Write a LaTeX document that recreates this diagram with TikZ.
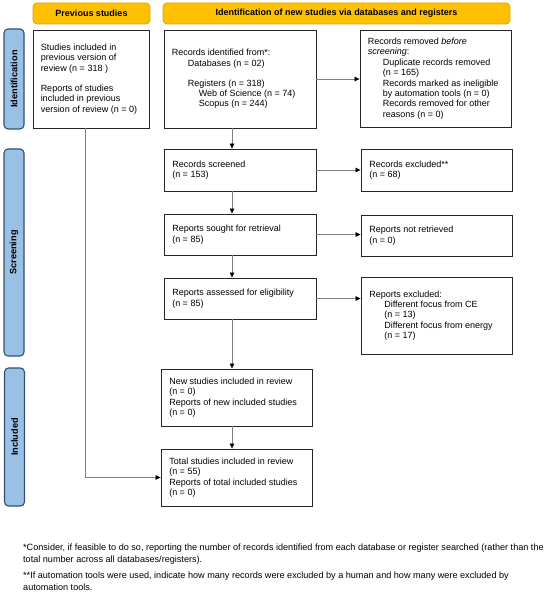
\documentclass[tikz,border=0pt]{standalone}
\usepackage{fontspec}
\setmainfont{Liberation Sans}
\usetikzlibrary{arrows.meta}
\definecolor{hdrfill}{HTML}{FFC000}
\definecolor{hdrdraw}{HTML}{D9A400}
\definecolor{sidefill}{HTML}{9AC0E6}
\definecolor{sidedraw}{HTML}{34506E}
\definecolor{arrgray}{HTML}{808080}
\begin{document}
\begin{tikzpicture}[x=1pt,y=-1pt,
  every node/.style={font=\fontsize{9}{10.4}\selectfont},
  box/.style={draw=black!85, line width=0.9pt, inner sep=0pt},
  txt/.style={anchor=west, align=left, inner sep=0pt},
  hdr/.style={draw=hdrdraw, fill=hdrfill, rounded corners=4pt, line width=0.8pt, inner sep=0pt, font=\fontsize{9}{10.4}\selectfont\bfseries},
  side/.style={draw=sidedraw, fill=sidefill, rounded corners=4pt, line width=1.1pt, inner sep=0pt, rotate=90, font=\fontsize{9.2}{10.4}\selectfont\bfseries},
  arr/.style={draw=arrgray, line width=0.7pt, -{Triangle[length=5pt,width=4.5pt,color=black]}},
  fn/.style={anchor=base west, inner sep=0pt, font=\fontsize{9.1}{10.4}\selectfont},
]
\useasboundingbox (0,0) rectangle (550,593);

% headers
\node[hdr, minimum width=117, minimum height=21] (hprev) at (91.5,13.5) {Previous studies};
\node[hdr, minimum width=347, minimum height=21] (hnew) at (336.5,13.5) {Identification of new studies via databases and registers};

% side labels
\node[side, minimum width=100, minimum height=20] (sid) at (14,79) {Identification};
\node[side, minimum width=207, minimum height=20] (sscr) at (14,252.5) {Screening};
\node[side, minimum width=138, minimum height=20] (sinc) at (14.5,437) {Included};

% boxes
\node[box, minimum width=116, minimum height=98] (prev) at (91,79) {};
\node[box, minimum width=152, minimum height=98] (ident) at (240,79) {};
\node[box, minimum width=151, minimum height=97] (removed) at (435.5,78.5) {};
\node[box, minimum width=152, minimum height=42] (screened) at (240,170) {};
\node[box, minimum width=151, minimum height=42] (excl) at (436.5,170) {};
\node[box, minimum width=152, minimum height=41] (sought) at (240,234.5) {};
\node[box, minimum width=151, minimum height=41] (notret) at (436.5,235.5) {};
\node[box, minimum width=152, minimum height=41] (assessed) at (240,298.5) {};
\node[box, minimum width=151, minimum height=77] (repexcl) at (436.5,315.5) {};
\node[box, minimum width=151, minimum height=57] (newst) at (236.5,397.5) {};
\node[box, minimum width=151, minimum height=57] (total) at (236.5,477.5) {};

% texts
\node[txt] (prevtxt) at ([xshift=8pt]prev.west) {Studies included in\\previous version of\\review (n = 318 )\\[9.5pt]Reports of studies\\included in previous\\version of review (n = 0)};
\node[txt] (identtxt) at ([xshift=8pt]ident.west) {Records identified from*:\\\hspace*{16pt}Databases (n = 02)\\[9.5pt]\hspace*{16pt}Registers (n = 318)\\\hspace*{27pt}Web of Science (n = 74)\\\hspace*{27pt}Scopus (n = 244)};
\node[txt] (removedtxt) at ([xshift=8pt]removed.west) {Records removed \textit{before}\\\textit{screening}:\\\hspace*{15pt}Duplicate records removed\\\hspace*{15pt}(n = 165)\\\hspace*{15pt}Records marked as ineligible\\\hspace*{15pt}by automation tools (n = 0)\\\hspace*{15pt}Records removed for other\\\hspace*{15pt}reasons (n = 0)};
\node[txt] (screenedtxt) at ([xshift=8.5pt]screened.west) {Records screened\\(n = 153)};
\node[txt] (excltxt) at ([xshift=8.5pt]excl.west) {Records excluded**\\(n = 68)};
\node[txt] (soughttxt) at ([xshift=8.5pt]sought.west) {Reports sought for retrieval\\(n = 85)};
\node[txt] (notrettxt) at ([xshift=8.5pt]notret.west) {Reports not retrieved\\(n = 0)};
\node[txt] (assessedtxt) at ([xshift=8.5pt]assessed.west) {Reports assessed for eligibility\\(n = 85)};
\node[txt] (repexcltxt) at ([xshift=8.5pt]repexcl.west) {Reports excluded:\\\hspace*{15pt}Different focus from CE\\\hspace*{15pt}(n = 13)\\\hspace*{15pt}Different focus from energy\\\hspace*{15pt}(n = 17)};
\node[txt] (newsttxt) at ([xshift=8.5pt]newst.west) {New studies included in review\\(n = 0)\\Reports of new included studies\\(n = 0)};
\node[txt] (totaltxt) at ([xshift=8.5pt]total.west) {Total studies included in review\\(n = 55)\\Reports of total included studies\\(n = 0)};

% connectors
\coordinate (spine) at (232,0);
\coordinate (pline) at (85,0);
\draw[arr] (ident.south -| spine) -- (screened.north -| spine);
\draw[arr] (screened.south -| spine) -- (sought.north -| spine);
\draw[arr] (sought.south -| spine) -- (assessed.north -| spine);
\draw[arr] (assessed.south -| spine) -- (newst.north -| spine);
\draw[arr] (newst.south -| spine) -- (total.north -| spine);
\draw[arr] (ident.east) -- (ident.east -| removed.west);
\draw[arr] (screened.east) -- (screened.east -| excl.west);
\draw[arr] (sought.east) -- (sought.east -| notret.west);
\draw[arr] (assessed.east) -- (assessed.east -| repexcl.west);
\draw[arr] (prev.south -| pline) |- (total.west);

% footnotes
\node[fn] (fn1) at (23,550) {*Consider, if feasible to do so, reporting the number of records identified from each database or register searched (rather than the};
\node[fn] (fn2) at (23,562) {total number across all databases/registers).};
\node[fn] (fn3) at (23,578.5) {**If automation tools were used, indicate how many records were excluded by a human and how many were excluded by};
\node[fn] (fn4) at (23,590) {automation tools.};
\end{tikzpicture}
\end{document}
